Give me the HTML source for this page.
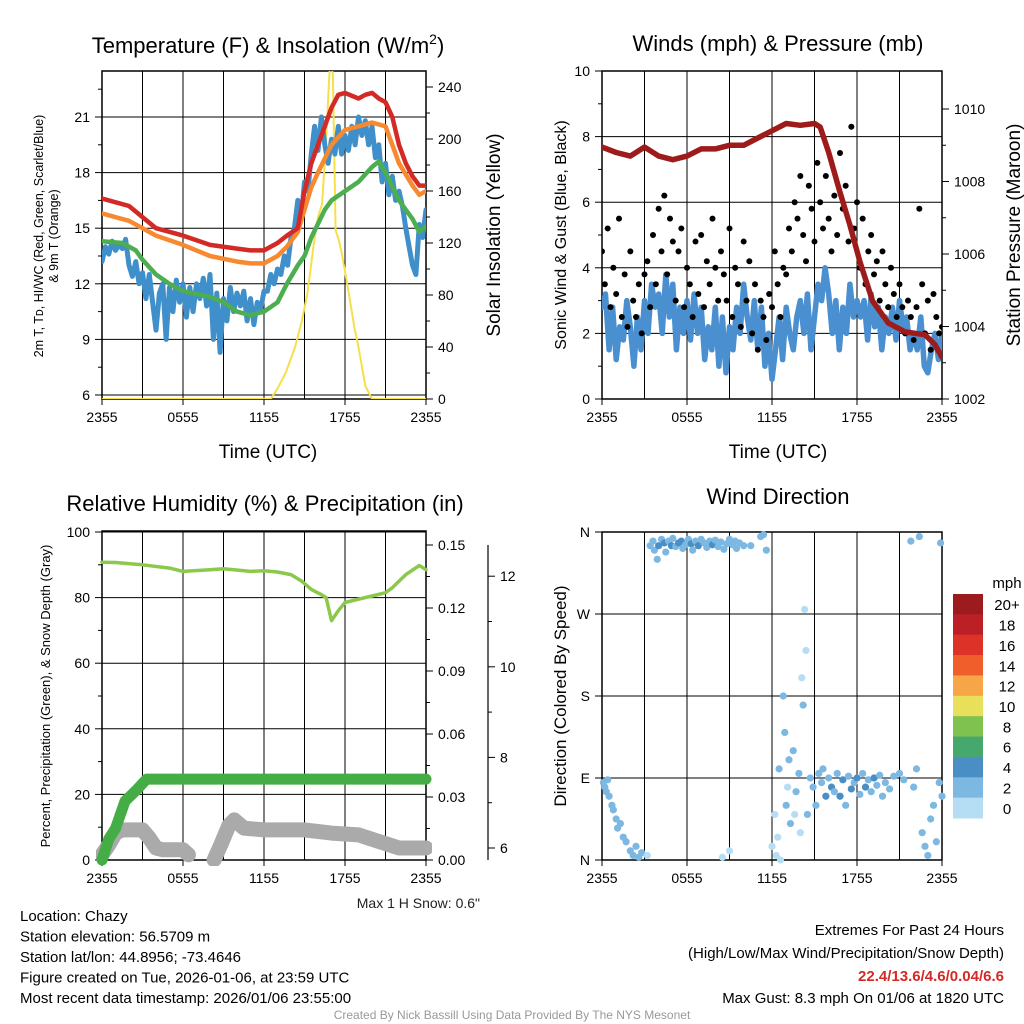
<!DOCTYPE html>
<html><head><meta charset="utf-8"><style>
body{margin:0;background:#fff}
svg{display:block;font-family:"Liberation Sans",sans-serif}
</style></head><body>
<svg id="c" width="1024" height="1024" viewBox="0 0 1024 1024" xmlns="http://www.w3.org/2000/svg">
<defs>
<clipPath id="cp1"><rect x="102" y="71" width="324" height="328"/></clipPath>
<clipPath id="cp2"><rect x="602" y="71" width="340" height="328"/></clipPath>
<clipPath id="cp3"><rect x="96" y="531" width="336" height="335"/></clipPath>
<clipPath id="cp4"><rect x="596" y="526" width="352" height="340"/></clipPath>
</defs>
<g id="g"></g>
</svg>
<script>
// ---------- DATA ----------
const xTickLabels=["2355","0555","1155","1755","2355"];
// Panel 1 temperature (F)
const redT=[0,2,4,6,8,10,11,12,13,13.7,14.5,15,15.5,16,16.5,17,17.5,18,19,19.5,20,20.5,21,21.5,22,22.5,23,23.5,24];
const redV=[16.6,16.2,15.0,14.6,14.1,13.9,13.8,13.8,14.2,14.6,15.0,17.0,18.5,19.5,20.5,21.5,22.2,22.3,22.0,22.2,22.3,22.0,21.8,21.0,19.5,18.5,17.8,17.3,17.3];
const orT=[0,2,4,6,8,10,11,12,13,13.7,14.5,15,15.5,16,17,18,19,20,21,21.5,22,23,23.5,24];
const orV=[15.8,15.4,14.6,14.1,13.5,13.2,13.1,13.1,13.5,14.0,14.8,16.0,17.2,18.0,19.5,20.3,20.5,20.7,20.5,19.5,18.5,17.3,16.8,17.0];
const grT=[0,1.5,2.5,3,4,5,6,8,9,10,11,12,13,13.7,14.5,15,15.5,16.5,17,18,19,20,20.5,21,22,23,23.5,24];
const grV=[14.3,14.2,13.8,13.3,12.5,12.0,11.6,11.3,11.0,10.5,10.3,10.5,11.0,12.0,13.0,13.5,14.5,16.0,16.5,17.0,17.5,18.3,18.6,18.0,16.5,15.5,14.8,15.1];
const blueV=[13.2,14.0,13.6,14.3,13.8,14.1,13.9,14.4,13.0,12.4,13.2,12.0,12.6,11.2,12.5,11.0,9.5,11.5,12.0,9.0,11.8,10.5,12.2,11.0,12.0,10.2,11.8,10.5,12.0,11.2,12.3,10.8,12.5,9.0,11.5,8.3,11.2,10.0,11.8,10.5,11.5,10.8,11.6,10.0,11.2,9.8,11.0,10.6,11.6,11.6,12.5,12.0,12.8,12.5,13.5,13.0,14.5,15.0,16.5,15.5,17.5,17.0,19.0,20.5,19.2,21.0,19.5,18.5,19.8,19.0,20.5,19.0,20.0,19.2,20.5,19.5,21.0,20.0,20.8,19.5,20.5,18.8,19.5,17.5,18.5,16.8,17.8,16.5,17.0,16.2,15.0,14.0,13.0,12.5,15.2,14.5,16.0];
const solT=[0,12.5,13,13.6,14.3,14.8,15.2,15.7,16.0,16.3,16.6,16.9,17.1,17.3,17.6,17.8,18.3,18.7,19.0,19.5,20,24];
const solV=[0,0,8,20,40,60,80,120,140,150,200,260,250,130,120,110,80,55,40,10,0,0];
// Panel 2 winds & pressure
const windV=[2.8,3.2,1.5,2.8,1.2,2.2,1.8,3.0,2.2,1.0,2.5,1.5,3.0,2.0,3.5,2.8,3.2,2.0,3.8,2.5,3.5,1.5,2.8,2.0,3.0,1.8,3.2,2.0,2.8,1.2,2.2,1.5,2.8,1.0,2.5,0.8,2.2,1.5,2.8,2.0,3.5,2.5,1.8,3.0,1.5,2.8,1.0,2.0,0.6,1.5,2.5,1.2,2.8,2.0,1.5,2.5,3.0,2.0,3.2,1.5,2.5,3.5,3.0,4.0,3.2,2.0,3.0,1.5,2.8,2.0,3.5,2.5,3.0,2.5,3.0,1.8,3.2,2.2,2.8,1.5,2.5,2.0,2.8,1.8,3.0,2.2,2.5,1.5,2.0,1.5,2.5,1.0,0.8,1.5,2.0,1.2,2.0];
const gustV=[4.5,3.5,5.2,2.8,4.0,3.2,5.5,2.5,3.8,2.2,4.5,3.0,2.5,3.5,2.0,3.8,4.2,2.8,5.0,3.5,5.8,4.5,6.2,3.8,5.5,4.8,3.0,4.5,5.2,2.8,4.0,3.5,2.5,4.8,3.2,5.0,2.8,4.2,3.5,5.5,4.0,3.0,4.5,3.8,3.0,5.2,2.5,4.0,3.5,2.2,4.8,3.0,4.2,2.0,3.5,1.5,3.0,2.5,1.8,3.2,2.8,4.5,3.5,2.5,4.0,3.8,5.2,4.5,6.0,5.5,6.8,5.0,4.2,6.5,5.8,4.8,7.2,6.0,5.2,6.8,5.5,4.5,6.2,5.0,7.5,5.8,6.5,4.8,8.3,5.2,6.0,4.0,5.5,3.5,4.5,5.0,3.8,4.2,3.0,4.5,3.5,2.8,4.0,3.2,2.5,3.5,2.8,2.0,3.0,2.5,1.8,2.8,5.8,3.5,2.0,3.0,1.5,3.2,2.5,2.0,2.2];
const presT=[0,1,2,3,4,5,6,7,8,9,10,11,12,13,14,15,15.4,16,16.8,17.5,18.2,19.1,20.2,21.4,22.8,23.5,24];
const presV=[1008.95,1008.8,1008.7,1008.95,1008.7,1008.6,1008.7,1008.9,1008.9,1009.0,1009.0,1009.2,1009.4,1009.6,1009.55,1009.6,1009.5,1008.8,1007.7,1006.8,1005.8,1004.7,1004.1,1003.85,1003.77,1003.5,1003.15];
// Panel 3 RH / precip / snow
const rhT=[0,1,3,5,6,8,9,11,12,13,14,14.8,15.5,16.2,16.6,17.0,17.5,18,19,20,21,21.5,22.5,23.5,24];
const rhV=[90.8,90.7,90.0,89.0,88.0,88.5,88.8,88.0,88.2,87.8,87.0,85.0,82.5,81.0,80.0,73.0,76.0,78.5,79.5,80.5,81.5,83.0,87.0,89.8,88.5];
const prT=[0,0.5,1.0,1.7,2.5,3.3,24];
const prV=[0,0.01,0.015,0.028,0.033,0.0385,0.0385];
const snT=[[0,0.5,1.0,1.5,3.0,3.5,4.0,4.5,6.0,6.4],[8.3,8.8,9.4,9.8,10.5,12,15,17,19,22,24]];
const snV=[[5.85,6.07,6.33,6.4,6.4,6.22,6.0,5.96,5.96,5.85],[5.74,6.07,6.5,6.62,6.44,6.4,6.4,6.33,6.29,6.0,6.0]];
// Panel 4 wind direction
const dirT=[0.1,0.2,0.3,0.4,0.5,0.7,0.8,1.0,1.1,1.3,1.5,1.7,2.0,2.2,2.4,2.6,2.8,3.2,3.4,3.6,3.7,3.9,4.0,4.2,4.4,4.5,4.7,4.9,5.0,5.2,5.4,5.6,5.7,5.9,6.1,6.3,6.4,6.6,6.8,7.0,7.2,7.4,7.6,7.8,8.0,8.2,8.4,8.6,8.8,9.0,9.2,9.4,9.5,9.7,10.0,8.5,9.0,10.5,11.2,11.4,11.6,12.0,12.2,12.3,12.4,12.5,12.6,12.8,12.9,13.0,13.1,13.2,13.3,13.5,13.6,13.7,13.9,14.0,14.2,14.1,14.3,14.4,14.5,14.7,14.9,15.1,15.3,15.5,15.6,15.8,16.0,16.2,16.4,16.6,16.8,17.0,17.2,17.4,17.6,17.8,18.0,18.2,18.4,18.6,18.8,19.0,19.2,19.4,19.6,19.8,20.0,20.3,20.6,21.0,21.3,21.8,22.0,22.2,22.4,22.6,22.8,23.0,23.2,23.4,23.6,23.8,24.0,23.9];
const dirV=[85,80,75,88,70,60,55,45,35,40,25,20,10,5,15,3,8,5,345,350,340,330,345,352,348,338,350,345,353,344,348,350,342,346,352,347,340,350,345,352,348,343,350,346,351,344,349,341,347,352,346,350,342,348,345,3,10,345,355,357,340,15,50,5,25,100,0,180,140,60,80,110,40,120,50,75,95,30,170,200,275,230,50,90,80,60,95,85,100,70,90,80,75,95,70,88,60,92,78,85,90,72,95,80,88,75,90,82,93,70,85,78,92,95,88,350,80,100,355,30,15,5,45,60,20,85,70,348];
const dirS=[2,3,2,2,3,2,3,3,2,3,3,2,3,2,3,3,2,1,3,2,2,3,4,3,4,2,3,4,3,2,4,4,3,3,3,4,3,3,4,2,3,2,3,4,3,2,3,3,3,2,3,3,2,3,2,1,1,3,2,2,2,1,1,1,1,2,1,2,2,2,1,2,2,2,1,2,2,1,2,1,1,1,2,2,3,3,3,3,3,4,3,4,3,3,4,4,2,3,4,3,4,3,3,4,3,3,4,3,3,3,3,3,2,2,2,2,2,2,2,2,3,3,2,2,3,2,3,2];
const cbLabels=["20+","18","16","14","12","10","8","6","4","2","0"];
const cbColors=["#9b1b1e","#bd1f26","#dc3228","#f05f2b","#f7a647","#e8e05a","#7fc24f","#47a86e","#4a8ec6","#7cb8e2","#b5def5"];

// ---------- HELPERS ----------
const NS="http://www.w3.org/2000/svg";
const G=document.getElementById('g');
function mk(tag,attrs,parent,text){const e=document.createElementNS(NS,tag);for(const k in attrs)e.setAttribute(k,attrs[k]);if(text!==undefined)e.textContent=text;(parent||G).appendChild(e);return e;}
function txt(x,y,s,size,name,opts){opts=opts||{};const e=mk('text',{x:x,y:y,'font-size':size,'text-anchor':opts.anchor||'middle',fill:opts.fill||'#000'},opts.parent,s);if(opts.rot)e.setAttribute('transform','rotate(-90 '+x+' '+y+')');if(opts.bold)e.setAttribute('font-weight','bold');


return e;}
function path(pts,stroke,w,name,clip){let d='';pts.forEach((p,i)=>{d+=(i?'L':'M')+p[0].toFixed(1)+','+p[1].toFixed(1);});const e=mk('path',{d:d,fill:'none',stroke:stroke,'stroke-width':w,'stroke-linejoin':'round','stroke-linecap':'round','clip-path':'url(#'+clip+')'});


return e;}
function line(x1,y1,x2,y2,w,col){return mk('line',{x1:x1,y1:y1,x2:x2,y2:y2,stroke:col||'#000','stroke-width':w||1});}

// scales
const x1=t=>102+t*13.5, x2=t=>602+t*(340/24);
const yL1=v=>395-(v-6)*(278/15), yR1=v=>399-v*1.3;
const yL2=v=>399-v*32.8, yR2=p=>399-(p-1002)*36.25;
const yL3=v=>860-v*3.28, yP=v=>860-v*2100, yS=v=>848-(v-6)*45.3;
const yD=d=>860-d*328/360;

function frame(x0,y0,w,h,xs,xstep,hl,name){
  const gg=mk('g',{});
  
  
  for(let t=0;t<=24;t+=3){gg.appendChild(mk('line',{x1:xs(t),y1:y0,x2:xs(t),y2:y0+h,stroke:'#000','stroke-width':1}));}
  hl.forEach(y=>gg.appendChild(mk('line',{x1:x0,y1:y,x2:x0+w,y2:y,stroke:'#000','stroke-width':1})));
  gg.appendChild(mk('rect',{x:x0,y:y0,width:w,height:h,fill:'none',stroke:'#000','stroke-width':1.5}));
  xTickLabels.forEach((s,i)=>{const t=i*6;gg.appendChild(mk('line',{x1:xs(t),y1:y0+h,x2:xs(t),y2:y0+h+6,stroke:'#000'}));txt(xs(t),y0+h+23,s,14,'x-tick-label');});
  return gg;
}
function yTicks(xa,vals,ys,side,name,fmt,minor){
  vals.forEach(v=>{const y=ys(v);line(xa,y,xa+side*7,y,1);txt(xa+side*12,y+5,fmt?fmt(v):String(v),14,name,{anchor:side<0?'end':'start'});});
  if(minor)minor.forEach(v=>line(xa,ys(v),xa+side*4,ys(v),1));
}

// ---------- PANEL 1 ----------
frame(102,71,324,328,x1,3,[6,9,12,15,18,21].map(yL1),'temperature-plot-frame');
yTicks(102,[6,9,12,15,18,21],yL1,-1,'temp-y-tick',null,[7.5,10.5,13.5,16.5,19.5,22.5]);
yTicks(426,[0,40,80,120,160,200,240],yR1,1,'insolation-y-tick',null,[20,60,100,140,180,220]);
line(102,yR1(0),426,yR1(0),1);
path(solT.map((t,i)=>[x1(t),yR1(solV[i])]),'#f5e04a',2,'solar-insolation-line','cp1');
path(blueV.map((v,i)=>[x1(i*0.25),yL1(v)]),'#3f8fcb',5,'heat-index-windchill-line','cp1');
path(grT.map((t,i)=>[x1(t),yL1(grV[i])]),'#4cae4f',4.5,'dewpoint-line','cp1');
path(orT.map((t,i)=>[x1(t),yL1(orV[i])]),'#f78a30',4.5,'9m-temperature-line','cp1');
path(redT.map((t,i)=>[x1(t),yL1(redV[i])]),'#d42a26',4.5,'2m-temperature-line','cp1');
const t1=txt(268,53,'Temperature (F) & Insolation (W/m',22,'temperature-chart-title');
mk('tspan',{dy:-9,'font-size':14},t1,'2');mk('tspan',{dy:9},t1,')');
txt(43,236,'2m T, T\u1D05, HI/WC (Red, Green, Scarlet/Blue)',12.5,'temp-y-axis-title',{rot:true});
txt(58,236,'& 9m T (Orange)',12.5,'temp-y-axis-title-line2',{rot:true});
txt(268,458,'Time (UTC)',19,'x-axis-title');
txt(500,235,'Solar Insolation (Yellow)',19,'insolation-y-axis-title',{rot:true});

// ---------- PANEL 2 ----------
frame(602,71,340,328,x2,3,[0,2,4,6,8,10].map(yL2),'winds-plot-frame');
yTicks(602,[0,2,4,6,8,10],yL2,-1,'wind-y-tick',null,[1,3,5,7,9]);
yTicks(942,[1002,1004,1006,1008,1010],yR2,1,'pressure-y-tick',null,[1003,1005,1007,1009]);
path(windV.map((v,i)=>[x2(i*0.25),yL2(v)]),'#4a90d0',5.5,'sonic-wind-line','cp2');
gustV.forEach((v,i)=>{const c=mk('circle',{cx:x2(i*0.2),cy:yL2(v),r:3,fill:'#000','clip-path':'url(#cp2)'});

});
path(presT.map((t,i)=>[x2(t),yR2(presV[i])]),'#9e1b1b',5.5,'station-pressure-line','cp2');
txt(778,51,'Winds (mph) & Pressure (mb)',22,'winds-chart-title');
txt(778,458,'Time (UTC)',19,'x-axis-title');
txt(566,235,'Sonic Wind & Gust (Blue, Black)',16,'wind-y-axis-title',{rot:true});
txt(1020,235,'Station Pressure (Maroon)',19,'pressure-y-axis-title',{rot:true});

// ---------- PANEL 3 ----------
frame(102,531,324,329,x1,3,[0,20,40,60,80,100].map(yL3),'humidity-plot-frame');
yTicks(102,[0,20,40,60,80,100],yL3,-1,'rh-y-tick',null,[10,30,50,70,90]);
yTicks(426,[0,0.03,0.06,0.09,0.12,0.15],yP,1,'precip-y-tick',v=>v.toFixed(2),[0.015,0.045,0.075,0.105,0.135]);
line(488,545,488,860,1.2);
yTicks(488,[6,8,10,12],yS,1,'snow-y-tick',null,[7,9,11]);
snT.forEach((seg,k)=>path(seg.map((t,i)=>[x1(t),yS(snV[k][i])]),'#aaaaaa',15,'snow-depth-line','cp3'));
path(prT.map((t,i)=>[x1(t),yP(prV[i])]),'#45ad45',11,'precipitation-line','cp3');
path(rhT.map((t,i)=>[x1(t),yL3(rhV[i])]),'#8cc84b',3.5,'relative-humidity-line','cp3');
txt(265,511,'Relative Humidity (%) & Precipitation (in)',22,'humidity-chart-title');
txt(50,696,'Percent, Precipitation (Green), & Snow Depth (Gray)',13,'rh-y-axis-title',{rot:true});
txt(480,908,'Max 1 H Snow: 0.6"',14,'max-snow-note',{anchor:'end',fill:'#222'});

// ---------- PANEL 4 ----------
frame(602,532,340,328,x2,3,[0,90,180,270,360].map(yD),'direction-plot-frame');
const dl=['N','E','S','W','N'];
[0,90,180,270,360].forEach((d,i)=>{line(602,yD(d),595,yD(d),1);txt(590,yD(d)+5,dl[i],14,'direction-y-tick',{anchor:'end'});});
dirT.forEach((t,i)=>{const ci=10-Math.min(10,Math.floor(dirS[i]/2));const c=mk('circle',{cx:x2(t),cy:yD(dirV[i]),r:3.6,fill:cbColors[ci],'clip-path':'url(#cp4)'});

});
txt(778,504,'Wind Direction',22,'direction-chart-title');
txt(566,696,'Direction (Colored By Speed)',17,'direction-y-axis-title',{rot:true});
const cbg=mk('g',{});


const bh=224/11;
cbColors.forEach((c,i)=>{cbg.appendChild(mk('rect',{x:953,y:594+i*bh,width:30,height:bh+0.5,fill:c}));txt(1007,594+i*bh+bh/2+6,cbLabels[i],15,'colorbar-label');});
txt(1007,588,'mph',15,'colorbar-unit');

// ---------- FOOTER ----------
['Location: Chazy','Station elevation: 56.5709 m','Station lat/lon: 44.8956; -73.4646','Figure created on Tue, 2026-01-06, at 23:59 UTC','Most recent data timestamp: 2026/01/06 23:55:00'].forEach((s,i)=>txt(20,921+i*20.5,s,15,'station-info-line',{anchor:'start'}));
txt(1004,935,'Extremes For Past 24 Hours',15,'extremes-title',{anchor:'end'});
txt(1004,958,'(High/Low/Max Wind/Precipitation/Snow Depth)',15,'extremes-subtitle',{anchor:'end'});
txt(1004,981,'22.4/13.6/4.6/0.04/6.6',15,'extremes-values',{anchor:'end',fill:'#d42a26',bold:true});
txt(1004,1003,'Max Gust: 8.3 mph On 01/06 at 1820 UTC',15,'max-gust-note',{anchor:'end'});
txt(512,1019,'Created By Nick Bassill Using Data Provided By The NYS Mesonet',12,'credit-line',{fill:'#999'});
</script>
</body></html>
